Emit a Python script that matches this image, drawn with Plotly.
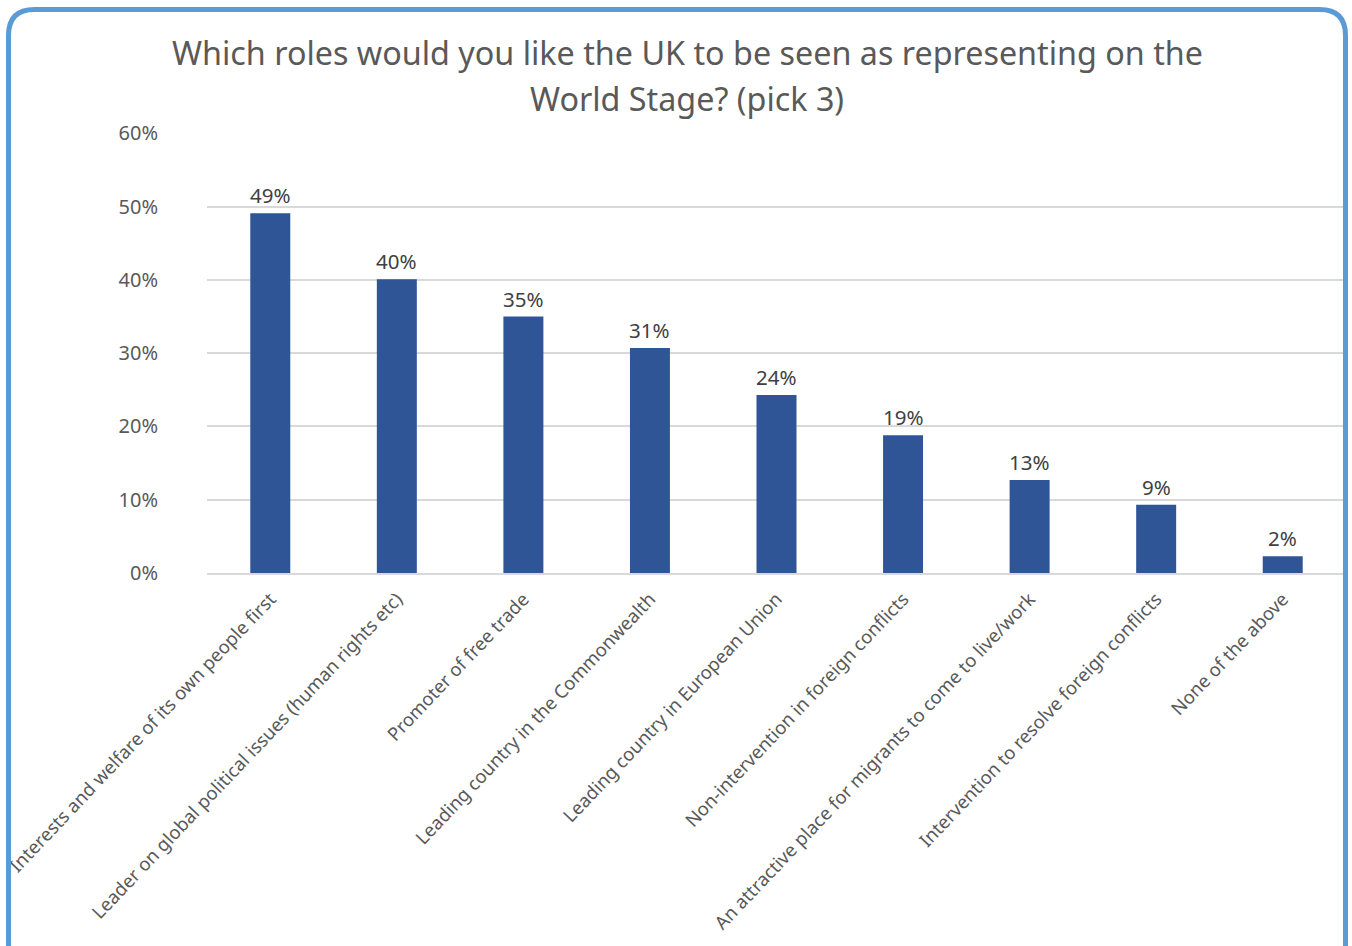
import plotly.graph_objects as go

categories = [
    "Interests and welfare of its own people first",
    "Leader on global political issues (human rights etc)",
    "Promoter of free trade",
    "Leading country in the Commonwealth",
    "Leading country in European Union",
    "Non-intervention in foreign conflicts",
    "An attractive place for migrants to come to live/work",
    "Intervention to resolve foreign conflicts",
    "None of the above",
]
values = [0.491, 0.401, 0.350, 0.307, 0.243, 0.188, 0.127, 0.093, 0.023]
value_labels = ["49%", "40%", "35%", "31%", "24%", "19%", "13%", "9%", "2%"]
tick_vals = [0, 0.1, 0.2, 0.3, 0.4, 0.5, 0.6]
tick_text = ["0%", "10%", "20%", "30%", "40%", "50%", "60%"]
title_lines = ["Which roles would you like the UK to be seen as representing on the",
               "World Stage? (pick 3)"]

W, H = 1352, 946
FONT = "Noto Sans"

def px(x):
    return x / W

def py(y):
    return 1 - y / H

fig = go.Figure()
fig.add_trace(go.Bar(
    x=categories, y=values,
    marker=dict(color="#2F5597", line=dict(width=0)),
    cliponaxis=False,
))

annotations = []
for cat, v, lab in zip(categories, values, value_labels):
    annotations.append(dict(x=cat, y=v, xref="x", yref="y", text=lab, showarrow=False,
                            xanchor="center", yanchor="bottom", yshift=2,
                            font=dict(family=FONT, size=20.5, color="#404040")))
for i, (line, yc) in enumerate(zip(title_lines, [52, 98])):
    annotations.append(dict(text=line, x=px(687), y=py(yc), xref="paper", yref="paper",
                            showarrow=False, xanchor="center", yanchor="middle",
                            font=dict(family=FONT, size=32.3, color="#595959")))

# rounded frame
x0, x1, y0, y1, r = 8.5, 1345.5, 9.5, 980, 26
path = (f"M {px(x0)} {py(y0 + r)} Q {px(x0)} {py(y0)} {px(x0 + r)} {py(y0)} "
        f"L {px(x1 - r)} {py(y0)} Q {px(x1)} {py(y0)} {px(x1)} {py(y0 + r)} "
        f"L {px(x1)} {py(y1 - r)} Q {px(x1)} {py(y1)} {px(x1 - r)} {py(y1)} "
        f"L {px(x0 + r)} {py(y1)} Q {px(x0)} {py(y1)} {px(x0)} {py(y1 - r)} Z")

fig.update_layout(
    width=W, height=H,
    margin=dict(l=0, r=0, t=0, b=0),
    paper_bgcolor="white", plot_bgcolor="white",
    showlegend=False,
    bargap=0.684,
    shapes=[dict(type="path", path=path, xref="paper", yref="paper",
                 line=dict(color="#5B9BD5", width=5), layer="above")],
    annotations=annotations,
    xaxis=dict(domain=[px(207), px(1346)], tickangle=-46.5, automargin=False,
               tickfont=dict(family=FONT, size=18.5, color="#595959"),
               ticklabelstandoff=6,
               showline=True, linecolor="#D9D9D9", linewidth=2, ticks=""),
    yaxis=dict(domain=[py(573), py(133)], range=[0, 0.6005], automargin=False,
               tickvals=tick_vals, ticktext=tick_text,
               tickfont=dict(family=FONT, size=20, color="#595959"),
               gridcolor="#D9D9D9", gridwidth=2, zeroline=False, ticklabelstandoff=48,
               showline=False),
)

fig.write_html("out.html", config={"displayModeBar": False},
               post_script="document.body.style.margin='0';document.body.style.overflow='hidden';")
